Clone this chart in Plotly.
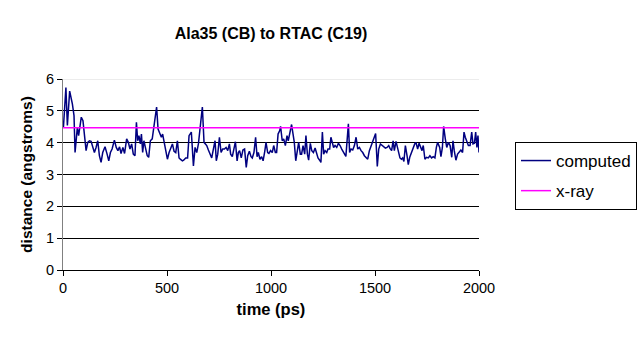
import plotly.graph_objects as go

# Simulation time (ps) and computed Ala35 CB – RTAC C19 distance (angstroms)
time_ps = [
    2, 14, 21, 32, 45, 53, 58, 69, 75, 80, 88, 96, 103, 111, 119, 127, 135, 143, 151, 159,
    167, 175, 183, 191, 202, 212, 220, 228, 236, 247, 256, 264, 272, 279, 288, 296, 306, 314, 322, 330,
    338, 346, 353, 359, 365, 372, 377, 383, 389, 396, 405, 412, 420, 429, 439, 450, 457, 465, 473, 479,
    487, 495, 502, 510, 518, 526, 534, 542, 550, 558, 564, 574, 580, 590, 599, 606, 617, 627, 635, 643,
    651, 660, 670, 678, 691, 699, 708, 715, 723, 731, 737, 744, 752, 760, 768, 776, 784, 792, 800, 806,
    814, 822, 829, 837, 843, 849, 857, 865, 873, 881, 888, 896, 904, 910, 918, 926, 933, 939, 947, 955,
    962, 970, 976, 984, 990, 998, 1006, 1013, 1021, 1027, 1034, 1042, 1046, 1054, 1061, 1069, 1077, 1083, 1091, 1099,
    1106, 1112, 1119, 1127, 1133, 1141, 1147, 1154, 1162, 1168, 1175, 1181, 1189, 1196, 1204, 1212, 1220, 1226, 1234, 1240,
    1247, 1253, 1260, 1268, 1274, 1282, 1288, 1295, 1301, 1308, 1316, 1324, 1332, 1340, 1349, 1360, 1372, 1378, 1385, 1393,
    1401, 1409, 1417, 1425, 1433, 1441, 1449, 1457, 1465, 1473, 1481, 1489, 1497, 1503, 1511, 1518, 1526, 1534, 1542, 1550,
    1558, 1566, 1572, 1580, 1587, 1593, 1601, 1607, 1614, 1620, 1627, 1633, 1639, 1646, 1654, 1660, 1667, 1675, 1683, 1691,
    1697, 1705, 1712, 1718, 1726, 1732, 1740, 1748, 1756, 1764, 1772, 1780, 1788, 1795, 1801, 1811, 1817, 1824, 1830, 1838,
    1845, 1853, 1861, 1869, 1875, 1881, 1889, 1897, 1905, 1913, 1921, 1928, 1934, 1941, 1949, 1957, 1965, 1971, 1978, 1984,
    1990, 1995, 2000,
]
distance_computed = [
    4.48, 5.73, 4.54, 5.62, 5.22, 4.85, 3.69, 4.48, 4.22, 4.48, 4.80, 4.69, 4.17, 3.75, 4.01, 4.06, 4.04, 3.85, 3.69, 3.85,
    4.06, 3.59, 3.38, 3.69, 3.87, 3.64, 3.43, 3.69, 3.80, 4.08, 3.85, 3.75, 3.87, 3.66, 3.85, 3.66, 4.12, 4.01, 3.80, 3.96,
    3.64, 3.59, 4.64, 4.06, 4.22, 3.96, 4.27, 3.69, 4.06, 3.85, 3.59, 3.54, 4.06, 4.12, 4.69, 5.12, 4.43, 4.27, 4.17, 4.27,
    4.01, 3.75, 3.48, 3.69, 3.85, 3.96, 3.73, 3.69, 4.06, 3.52, 3.48, 3.43, 3.45, 3.52, 3.52, 4.22, 4.33, 3.27, 3.85, 3.69,
    3.96, 4.48, 5.12, 4.01, 3.91, 3.77, 3.64, 3.52, 3.80, 4.06, 3.43, 3.64, 4.17, 3.69, 3.80, 3.80, 3.85, 3.75, 3.96, 3.64,
    3.56, 3.85, 4.03, 3.43, 3.69, 3.75, 3.52, 3.77, 3.80, 3.22, 3.59, 3.73, 3.56, 3.52, 3.69, 4.17, 3.56, 3.69, 3.48, 3.56,
    3.43, 3.73, 4.01, 3.69, 3.66, 3.75, 3.69, 3.91, 3.69, 3.69, 4.27, 4.38, 4.51, 4.06, 4.12, 3.91, 4.22, 4.06, 4.38, 4.57,
    4.27, 4.01, 3.43, 3.80, 4.01, 3.64, 3.64, 3.91, 3.64, 4.22, 3.64, 3.45, 3.98, 3.75, 3.69, 3.83, 3.59, 3.52, 3.45, 3.38,
    4.33, 3.64, 3.75, 3.69, 3.80, 3.80, 4.17, 4.01, 3.85, 3.91, 3.85, 3.98, 3.91, 3.80, 3.69, 3.57, 4.59, 3.69, 3.80, 3.77,
    3.91, 4.17, 3.80, 3.85, 3.75, 3.69, 3.59, 3.52, 3.48, 3.75, 3.91, 4.01, 4.17, 4.29, 3.25, 3.80, 3.96, 3.91, 3.85, 3.83,
    3.85, 3.91, 3.82, 3.75, 4.06, 3.75, 4.04, 3.85, 3.69, 3.52, 3.48, 3.52, 3.41, 3.91, 3.59, 3.31, 3.54, 3.69, 3.80, 3.96,
    4.01, 3.80, 3.98, 3.87, 3.75, 3.91, 3.48, 3.54, 3.52, 3.59, 3.52, 3.56, 3.52, 3.85, 4.01, 3.85, 3.56, 3.85, 4.51, 4.12,
    3.85, 4.01, 3.91, 3.54, 4.06, 3.75, 3.45, 3.64, 3.69, 3.77, 3.69, 4.33, 4.17, 4.01, 3.91, 3.91, 4.33, 3.96, 3.98, 4.33,
    3.85, 4.22, 3.69,
]

# Crystal-structure reference distance, drawn across the whole run
xray_distance = 4.47
xray_time = [0, 2000]

x_ticks = [0, 500, 1000, 1500, 2000]
y_ticks = [0, 1, 2, 3, 4, 5, 6]

fig = go.Figure()
fig.add_trace(go.Scatter(
    x=time_ps, y=distance_computed, mode="lines", name="computed",
    legendgroup="computed", line=dict(color="#000080", width=1.5),
))
fig.add_trace(go.Scatter(
    x=xray_time, y=[xray_distance] * len(xray_time), mode="lines", name="x-ray",
    legendgroup="xray", line=dict(color="#FF00FF", width=1.5),
))

font_family = "Liberation Sans, Arial, sans-serif"

fig.update_layout(
    width=641, height=337,
    margin=dict(l=63, r=162, t=79, b=67, pad=0, autoexpand=False),
    paper_bgcolor="white", plot_bgcolor="white",
    font=dict(family=font_family, color="black", size=14),
    title=dict(
        text="<b>Ala35 (CB) to RTAC (C19)</b>",
        font=dict(size=16, family=font_family, color="black"),
        x=0.5, xref="paper", xanchor="center",
        y=1 - 33 / 337, yref="container", yanchor="middle",
    ),
    xaxis=dict(
        range=[0, 2000], tickvals=x_ticks,
        showgrid=False, zeroline=False,
        showline=True, linecolor="black", linewidth=1,
        ticks="outside", ticklen=5, tickcolor="black",
        tickfont=dict(size=14.5),
        title=dict(text="<b>time (ps)</b>", font=dict(size=16.5), standoff=8),
    ),
    yaxis=dict(
        range=[0, 6], tickvals=y_ticks,
        showgrid=True, gridcolor="black", gridwidth=1,
        zeroline=False,
        showline=True, linecolor="#808080", linewidth=1,
        ticks="outside", ticklen=5, tickcolor="black",
        tickfont=dict(size=14.5),
        title=dict(text="<b>distance (angstroms)</b>", font=dict(size=15.5), standoff=9),
    ),
    legend=dict(
        x=(515 - 63) / 416, y=(270 - 142) / 191,
        xanchor="left", yanchor="top",
        bordercolor="black", borderwidth=1, bgcolor="white",
        font=dict(size=17), tracegroupgap=5,
    ),
    showlegend=True,
    shapes=[dict(
        type="line", xref="paper", yref="y", x0=0, x1=1, y0=6, y1=6,
        line=dict(color="#d9d9d9", width=1), layer="above",
    )],
)

fig.write_html("out.html")
